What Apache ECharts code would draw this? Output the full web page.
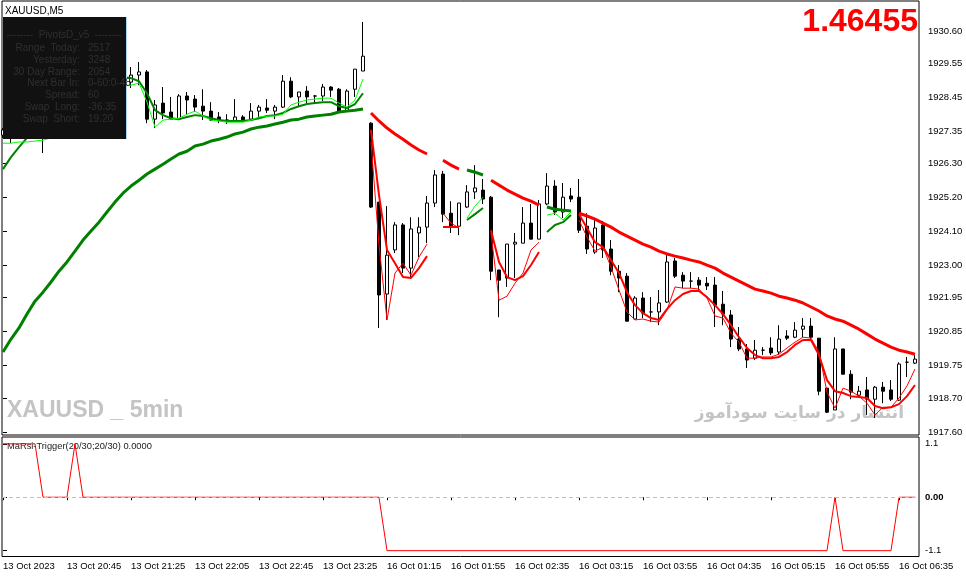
<!DOCTYPE html>
<html><head><meta charset="utf-8">
<script src="https://cdn.jsdelivr.net/npm/echarts@6/dist/echarts.min.js"></script>
<style>html,body{margin:0;padding:0;background:#fff;}#c{width:966px;height:578px;}</style>
</head><body><div id="c"></div>
<script>
// ---- axis labels ----
const xTickBars = [0, 8, 16, 24, 32, 40, 48, 56, 64, 72, 80, 88, 96, 104, 112];
const xTickLabels = ['13 Oct 2023', '13 Oct 20:45', '13 Oct 21:25', '13 Oct 22:05', '13 Oct 22:45', '13 Oct 23:25',
  '16 Oct 01:15', '16 Oct 01:55', '16 Oct 02:35', '16 Oct 03:15', '16 Oct 03:55', '16 Oct 04:35',
  '16 Oct 05:15', '16 Oct 05:55', '16 Oct 06:35'];
const priceTickLabels = ['1917.60', '1918.70', '1919.75', '1920.85', '1921.95', '1923.00', '1924.10',
  '1925.20', '1926.30', '1927.35', '1928.45', '1929.55', '1930.60'];
const triggerTickValues = [1.1, 0, -1.1];
const triggerTickLabels = ['1.1', '0.00', '-1.1'];

// ---- XAUUSD M5 candles (bar index 0 = 13 Oct 20:05) ----
const open = [
  1927.22,1927.39,1927.55,1927.64,1927.87,1927.77,1927.97,1928.42,1928.62,1928.81,
  1928.94,1929.01,1929.07,1929.14,1929.04,1929.10,1928.94,1929.17,1929.27,1927.74,
  1928.26,1927.97,1927.74,1928.49,1928.39,1928.16,1928.00,1927.81,1927.71,1927.68,
  1927.81,1927.74,1928.00,1928.10,1928.00,1928.13,1928.97,1928.46,1928.65,1928.49,
  1928.49,1928.78,1928.71,1928.00,1928.71,1929.30,1927.61,1925.05,1922.07,1923.50,
  1924.31,1922.91,1924.05,1924.24,1925.02,1925.96,1924.69,1924.27,1924.89,1925.38,
  1925.44,1925.21,1922.85,1922.59,1923.69,1923.72,1924.37,1923.85,1924.99,1925.57,
  1924.73,1925.25,1925.21,1924.27,1923.43,1924.31,1923.53,1922.81,1922.65,1921.26,
  1921.94,1921.49,1921.49,1921.81,1923.14,1922.68,1922.49,1922.52,1922.42,1922.36,
  1921.74,1921.39,1920.61,1920.29,1919.99,1920.25,1920.32,1920.19,1920.71,1920.67,
  1920.93,1921.03,1920.64,1919.02,1918.31,1920.29,1919.47,1918.79,1918.96,1918.66,
  1919.05,1918.96,1918.63,1919.86,1919.83];
const high = [
  1927.45,1927.71,1927.77,1927.97,1928.10,1928.03,1928.52,1928.75,1928.94,1929.07,
  1929.20,1929.27,1929.33,1929.40,1929.33,1929.33,1929.43,1929.59,1929.33,1928.36,
  1928.78,1928.46,1928.55,1928.62,1928.52,1928.71,1928.29,1927.97,1927.90,1928.39,
  1927.87,1928.26,1928.20,1928.39,1928.20,1929.17,1929.10,1928.62,1928.81,1928.52,
  1928.88,1928.81,1928.75,1928.71,1929.36,1930.89,1927.64,1925.05,1924.92,1924.40,
  1924.37,1924.56,1924.56,1925.25,1926.09,1926.06,1925.08,1925.02,1925.60,1926.25,
  1925.80,1925.25,1922.85,1923.69,1924.05,1924.89,1924.99,1925.12,1925.99,1925.76,
  1925.67,1925.51,1925.80,1924.69,1924.53,1924.44,1923.82,1923.01,1922.75,1922.00,
  1922.13,1921.97,1922.20,1923.33,1923.24,1922.78,1922.78,1922.62,1922.62,1922.62,
  1922.17,1921.55,1921.00,1920.45,1920.58,1920.35,1920.67,1921.06,1920.90,1921.16,
  1921.29,1921.29,1920.64,1919.02,1920.67,1920.29,1919.60,1919.09,1919.38,1919.09,
  1919.22,1919.28,1919.86,1920.03,1920.09];
const low = [
  1927.13,1926.96,1927.32,1927.45,1927.55,1926.64,1927.84,1928.23,1928.42,1928.62,
  1928.75,1928.81,1928.88,1928.94,1928.84,1928.88,1928.75,1928.84,1927.61,1927.45,
  1927.74,1927.74,1927.71,1927.90,1927.97,1927.71,1927.68,1927.61,1927.58,1927.64,
  1927.68,1927.68,1927.74,1927.94,1927.74,1928.10,1928.42,1928.13,1928.26,1928.26,
  1928.33,1928.46,1927.97,1927.97,1928.46,1929.30,1924.86,1920.97,1921.23,1923.40,
  1922.75,1922.62,1923.27,1923.72,1924.89,1924.40,1924.05,1923.98,1924.86,1925.15,
  1924.99,1922.52,1921.32,1922.30,1922.59,1923.72,1923.85,1923.85,1924.95,1924.63,
  1924.53,1925.05,1924.05,1923.37,1923.37,1923.24,1922.68,1922.13,1921.19,1921.23,
  1921.29,1921.16,1921.06,1921.78,1922.59,1922.26,1922.26,1922.20,1922.20,1921.00,
  1921.06,1920.35,1920.22,1919.67,1919.93,1920.09,1920.09,1920.09,1920.58,1920.64,
  1920.67,1920.61,1918.79,1918.21,1918.31,1919.47,1918.66,1918.73,1918.15,1918.05,
  1918.53,1918.60,1918.60,1919.38,1919.80];
const close = [
  1927.39,1927.55,1927.64,1927.87,1927.77,1927.97,1928.42,1928.62,1928.81,1928.94,
  1929.01,1929.07,1929.14,1929.04,1929.10,1929.01,1929.17,1929.27,1927.74,1928.20,
  1927.94,1927.74,1928.49,1928.36,1928.13,1928.00,1927.71,1927.71,1927.71,1927.81,
  1927.71,1928.00,1928.13,1928.03,1928.13,1928.97,1928.46,1928.62,1928.46,1928.49,
  1928.78,1928.68,1928.00,1928.65,1929.36,1929.78,1924.89,1922.04,1923.33,1924.31,
  1922.91,1924.18,1924.24,1925.02,1925.93,1924.66,1924.24,1925.02,1925.38,1925.51,
  1925.15,1922.81,1922.52,1923.69,1923.75,1924.37,1923.85,1924.99,1925.57,1924.73,
  1925.21,1925.15,1924.14,1923.53,1924.21,1923.50,1922.81,1922.59,1921.19,1921.94,
  1921.45,1921.49,1921.78,1923.11,1922.65,1922.49,1922.49,1922.36,1922.33,1921.71,
  1921.42,1920.61,1920.29,1919.93,1920.25,1920.25,1920.16,1920.61,1920.64,1920.90,
  1921.03,1920.67,1918.92,1918.24,1920.29,1919.47,1918.89,1918.92,1918.66,1919.05,
  1918.92,1918.66,1919.80,1919.86,1919.96];

// ---- moving averages (thick slow, medium, thin fast) ----
const maSlow = [
  1920.19,1920.61,1920.97,1921.42,1921.84,1922.13,1922.46,1922.81,1923.11,1923.46,
  1923.82,1924.11,1924.40,1924.73,1925.05,1925.34,1925.57,1925.76,1925.96,1926.12,
  1926.28,1926.45,1926.61,1926.70,1926.87,1926.93,1927.03,1927.09,1927.16,1927.26,
  1927.32,1927.42,1927.48,1927.52,1927.58,1927.64,1927.71,1927.74,1927.81,1927.84,
  1927.87,1927.90,1927.97,1928.00,1928.03,1928.07,1927.94,1927.68,1927.45,1927.26,
  1927.09,1926.90,1926.74,1926.61,1926.51,1926.41,1926.25,1926.12,1926.09,1926.02,
  1925.93,1925.76,1925.60,1925.44,1925.31,1925.18,1925.08,1924.95,1924.89,1924.82,
  1924.79,1924.76,1924.69,1924.60,1924.50,1924.37,1924.24,1924.08,1923.95,1923.82,
  1923.69,1923.59,1923.46,1923.37,1923.30,1923.24,1923.17,1923.11,1923.01,1922.91,
  1922.75,1922.62,1922.49,1922.36,1922.23,1922.17,1922.10,1922.00,1921.94,1921.87,
  1921.78,1921.65,1921.52,1921.36,1921.26,1921.19,1921.06,1920.93,1920.77,1920.61,
  1920.48,1920.35,1920.25,1920.19,1920.12];
const maMid = [
  1926.12,1926.51,1926.83,1927.13,1927.39,1927.64,1927.90,1928.16,1928.39,1928.58,
  1928.75,1928.88,1928.97,1929.04,1929.07,1929.10,1929.07,1928.97,1928.58,1928.03,
  1927.87,1927.77,1927.74,1927.81,1927.87,1927.84,1927.77,1927.71,1927.68,1927.68,
  1927.68,1927.71,1927.77,1927.84,1927.87,1927.94,1928.07,1928.16,1928.23,1928.26,
  1928.29,1928.29,1928.16,1928.10,1928.23,1928.58,1927.39,1925.28,1923.50,1923.07,
  1922.62,1922.59,1922.91,1923.30,1923.82,1924.24,1924.24,1924.24,1924.47,1924.66,
  1924.86,1924.14,1923.11,1922.62,1922.52,1922.65,1923.01,1923.43,1924.08,1924.31,
  1924.40,1924.63,1924.66,1924.21,1923.75,1923.59,1923.17,1922.75,1922.13,1921.71,
  1921.45,1921.29,1921.23,1921.58,1921.87,1922.07,1922.17,1922.17,1921.97,1921.71,
  1921.42,1921.06,1920.67,1920.32,1920.09,1919.99,1919.99,1920.03,1920.19,1920.42,
  1920.58,1920.58,1920.09,1919.28,1918.92,1918.86,1918.76,1918.73,1918.70,1918.44,
  1918.37,1918.40,1918.50,1918.76,1919.12];
const maFast = [
  1926.96,1926.96,1927.00,1927.00,1927.03,1927.06,1927.13,1927.39,1927.87,1928.36,
  1928.68,1928.84,1928.94,1928.94,1928.88,1928.84,1928.84,1928.91,1928.29,1927.48,
  1927.71,1927.74,1927.77,1927.90,1928.00,1927.84,1927.71,1927.68,1927.64,1927.64,
  1927.64,1927.71,1927.81,1927.84,1927.84,1927.90,1928.20,1928.29,1928.36,1928.39,
  1928.42,1928.42,1928.26,1928.13,1928.36,1929.04,1927.00,1923.66,1921.23,1922.75,
  1923.07,1922.68,1923.27,1923.69,1924.63,1924.69,1924.37,1924.21,1924.53,1924.92,
  1925.21,1924.05,1921.87,1922.00,1922.42,1922.75,1923.50,1923.75,1924.63,1924.69,
  1924.47,1924.73,1924.47,1923.92,1923.46,1923.59,1922.94,1922.20,1921.49,1921.23,
  1921.26,1921.19,1921.16,1921.55,1922.30,1922.26,1922.26,1922.23,1921.94,1921.36,
  1921.29,1920.80,1920.51,1919.99,1919.99,1920.03,1920.03,1920.12,1920.32,1920.51,
  1920.67,1920.64,1920.19,1918.89,1918.37,1919.02,1918.92,1918.76,1918.53,1918.15,
  1918.40,1918.40,1918.70,1919.09,1919.64];
// colour state of the MA lines: [firstBar, lastBar, direction]
const trendRuns = [[0,45,'up'],[46,53,'down'],[54,54,'up'],[55,57,'down'],[58,60,'up'],[61,67,'down'],[68,71,'up'],[72,114,'down']];

// ---- MaRsi-Trigger(20/30;20/30) ----
const trigger = [
  1.1,1.1,1.1,1.1,1.1,0,0,0,0,1.1,
  0,0,0,0,0,0,0,0,0,0,
  0,0,0,0,0,0,0,0,0,0,
  0,0,0,0,0,0,0,0,0,0,
  0,0,0,0,0,0,0,0,-1.1,-1.1,
  -1.1,-1.1,-1.1,-1.1,-1.1,-1.1,-1.1,-1.1,-1.1,-1.1,
  -1.1,-1.1,-1.1,-1.1,-1.1,-1.1,-1.1,-1.1,-1.1,-1.1,
  -1.1,-1.1,-1.1,-1.1,-1.1,-1.1,-1.1,-1.1,-1.1,-1.1,
  -1.1,-1.1,-1.1,-1.1,-1.1,-1.1,-1.1,-1.1,-1.1,-1.1,
  -1.1,-1.1,-1.1,-1.1,-1.1,-1.1,-1.1,-1.1,-1.1,-1.1,
  -1.1,-1.1,-1.1,-1.1,0,-1.1,-1.1,-1.1,-1.1,-1.1,
  -1.1,-1.1,0,0,0];
const triggerLevels = [0];

const infoRows = [
  ['Range  Today:', '2517'], ['Yesterday:', '3248'], ['30 Day Range:', '2054'],
  ['Next Bar In:', '0-60:0-48'], ['Spread:', '60'], ['Swap  Long:', '-36.35'], ['Swap  Short:', '19.20']];

// ---- helpers ----
const FONT = '"Liberation Sans", Arial, sans-serif';
const priceTickValues = priceTickLabels.map(Number);
function trendAt(i) { for (const r of trendRuns) if (i >= r[0] && i <= r[1]) return r[2]; return 'down'; }
function part(arr, dir) { return arr.map((v, i) => [i, trendAt(i) === dir ? v : null]); }
function lineSeries(name, arr, dir, color, width) {
  return { name, type: 'line', xAxisIndex: 0, yAxisIndex: 0, data: part(arr, dir), showSymbol: false,
    symbol: 'none', connectNulls: false, z: 3, silent: true,
    lineStyle: { color, width, cap: 'butt' }, itemStyle: { color } };
}
const X_MIN = -0.125, X_MAX = 114.5;
const INFO_TEXT = '#2f2f2f';

const chart = echarts.init(document.getElementById('c'), null, { renderer: 'canvas' });
const graphics = [
  { type: 'text', x: 7, y: 411, z: 0, style: { text: 'XAUUSD _ 5min', font: 'bold 23px ' + FONT, fill: '#c4c4c4', verticalAlign: 'middle' } },
  { type: 'text', x: 904, y: 414, z: 0, style: { text: 'انتشار در سایت سودآموز', font: 'bold 17px "DejaVu Sans"', fill: '#c4c4c4', align: 'right', verticalAlign: 'middle' } },
  { type: 'text', x: 5, y: 11, z: 50, style: { text: 'XAUUSD,M5', font: '10px ' + FONT, fill: '#000', verticalAlign: 'middle' } },
  { type: 'text', x: 918, y: 22, z: 50, style: { text: '1.46455', font: 'bold 32px ' + FONT, fill: '#ff0000', align: 'right', verticalAlign: 'middle' } },
  { type: 'rect', z: 100, shape: { x: 3, y: 17, width: 123, height: 122 }, style: { fill: '#111111' } },
  { type: 'rect', z: 100, shape: { x: 126, y: 17, width: 1, height: 122 }, style: { fill: '#a9d9f2' } },
  { type: 'text', x: 64, y: 35, z: 101, style: { text: '--------  PivotsD_v5  --------', font: '10px ' + FONT, fill: INFO_TEXT, align: 'center', verticalAlign: 'middle' } },
  { type: 'text', x: 7, y: 446, z: 0, style: { text: 'MaRsi-Trigger(20/30;20/30) 0.0000', font: '9.3px ' + FONT, fill: '#1a1a1a', verticalAlign: 'middle' } }
];
infoRows.forEach((r, k) => {
  const y = 48 + k * 11.9;
  graphics.push({ type: 'text', x: 80, y, z: 101, style: { text: r[0], font: '10px ' + FONT, fill: INFO_TEXT, align: 'right', verticalAlign: 'middle' } });
  graphics.push({ type: 'text', x: 88, y, z: 101, style: { text: r[1], font: '10px ' + FONT, fill: INFO_TEXT, align: 'left', verticalAlign: 'middle' } });
});

const option = {
  animation: false,
  backgroundColor: '#ffffff',
  textStyle: { fontFamily: FONT },
  grid: [
    { left: 2, top: 1, width: 917, height: 434, show: true, borderColor: '#000', borderWidth: 1, backgroundColor: 'transparent' },
    { left: 2, top: 437, width: 917, height: 119.5, show: true, borderColor: '#000', borderWidth: 1, backgroundColor: 'transparent' }
  ],
  xAxis: [
    { type: 'value', gridIndex: 0, min: X_MIN, max: X_MAX, show: false, splitLine: { show: false } },
    { type: 'value', gridIndex: 1, min: X_MIN, max: X_MAX, position: 'bottom',
      axisLine: { show: false }, splitLine: { show: false },
      axisTick: { show: true, customValues: xTickBars, length: 3, lineStyle: { color: '#000' } },
      axisLabel: { show: true, customValues: xTickBars, align: 'left', margin: 5, color: '#000', fontSize: 9.5, fontFamily: FONT,
        formatter: v => xTickLabels[xTickBars.indexOf(Math.round(v))] || '' } }
  ],
  yAxis: [
    { type: 'value', gridIndex: 0, position: 'right', min: 1917.50, max: 1931.57, scale: true,
      axisLine: { show: false }, splitLine: { show: false },
      axisTick: { show: true, customValues: priceTickValues, length: 4, lineStyle: { color: '#000' } },
      axisLabel: { show: true, customValues: priceTickValues, margin: 9, color: '#000', fontSize: 9.5, fontFamily: FONT,
        formatter: v => { const k = priceTickValues.findIndex(t => Math.abs(t - v) < 1e-6); return k >= 0 ? priceTickLabels[k] : ''; } } },
    { type: 'value', gridIndex: 1, position: 'right', min: -1.22, max: 1.24,
      axisLine: { show: false }, splitLine: { show: false },
      axisTick: { show: true, customValues: triggerTickValues, length: 4, lineStyle: { color: '#000' } },
      axisLabel: { show: true, customValues: triggerTickValues, margin: 6, color: '#000', fontSize: 9.5, fontFamily: FONT,
        rich: { b: { fontWeight: 'bold', fontSize: 9.5, color: '#000', fontFamily: FONT } },
        formatter: v => { const k = triggerTickValues.findIndex(t => Math.abs(t - v) < 1e-6); if (k < 0) return ''; return v === 0 ? '{b|' + triggerTickLabels[k] + '}' : triggerTickLabels[k]; } } }
  ],
  series: [
    { name: 'XAUUSD', type: 'candlestick', xAxisIndex: 0, yAxisIndex: 0, z: 2, silent: true,
      data: open.map((o, i) => [i, o, close[i], low[i], high[i]]),
      encode: { x: 0, y: [1, 2, 3, 4] },
      barWidth: 4,
      itemStyle: { color: '#ffffff', color0: '#000000', borderColor: '#000000', borderColor0: '#000000', borderWidth: 1 } },
    lineSeries('MA slow up', maSlow, 'up', '#008000', 3),
    lineSeries('MA slow down', maSlow, 'down', '#ff0000', 3),
    lineSeries('MA mid up', maMid, 'up', '#008000', 2),
    lineSeries('MA mid down', maMid, 'down', '#ff0000', 2),
    lineSeries('MA fast up', maFast, 'up', '#00ff00', 1),
    lineSeries('MA fast down', maFast, 'down', '#ff0000', 1),
    { name: 'MaRsi-Trigger', type: 'line', xAxisIndex: 1, yAxisIndex: 1, z: 3, silent: true,
      data: trigger.map((v, i) => [i, v]), showSymbol: false, symbol: 'none',
      lineStyle: { color: '#ff0000', width: 1 }, itemStyle: { color: '#ff0000' } },
    { name: 'level', type: 'line', xAxisIndex: 1, yAxisIndex: 1, z: 4, silent: true, data: [],
      markLine: { silent: true, symbol: 'none', label: { show: false },
        lineStyle: { color: '#c0c0c0', type: [4, 3], width: 1 },
        data: triggerLevels.map(v => ({ yAxis: v })) } }
  ],
  graphic: { elements: graphics }
};
chart.setOption(option);
</script>
</body></html>
